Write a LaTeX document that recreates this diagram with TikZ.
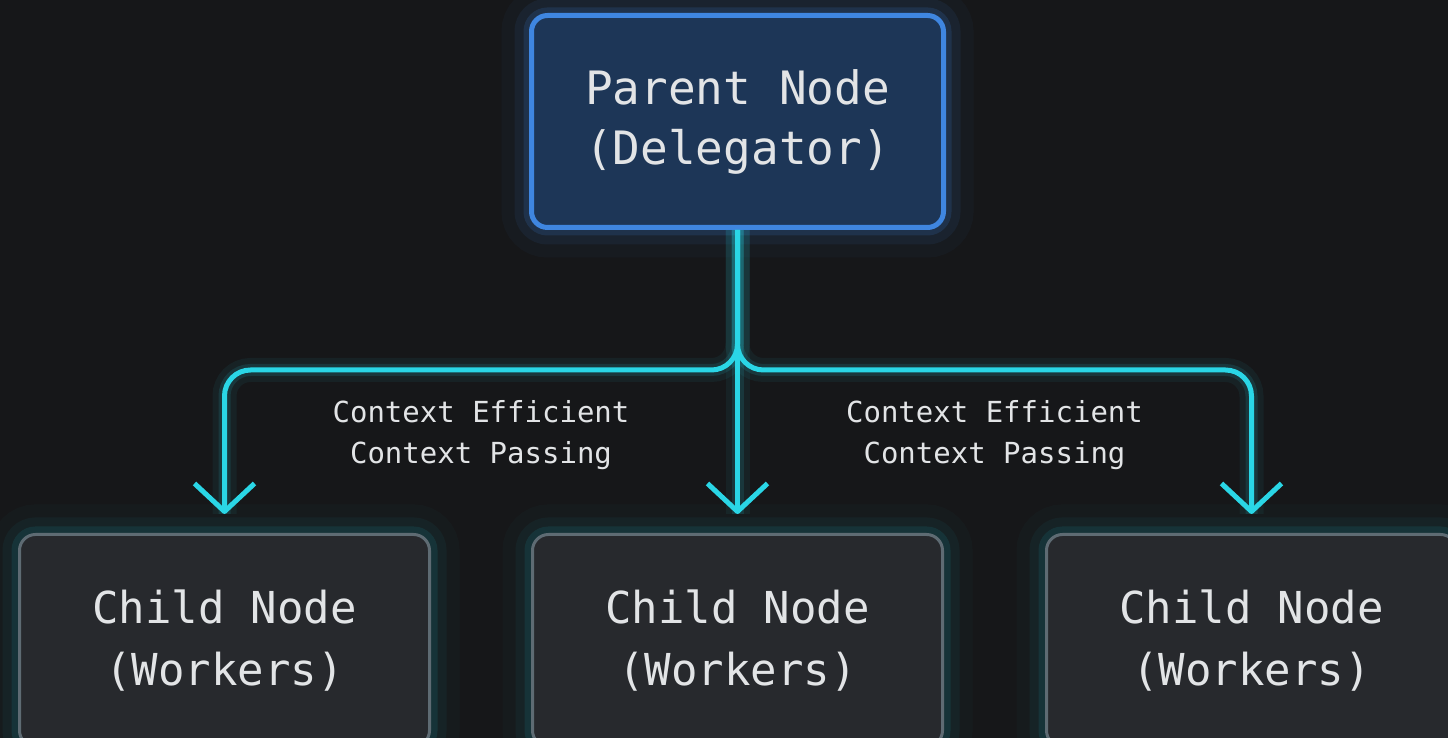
\documentclass[tikz,border=0pt]{standalone}
\usepackage{fontspec}
\setmonofont{DejaVu Sans Mono}
\usetikzlibrary{positioning, arrows.meta, calc}
\definecolor{bgcol}{HTML}{161719}
\definecolor{parentfill}{HTML}{1D3657}
\definecolor{parentline}{HTML}{3F86E0}
\definecolor{childfill}{HTML}{27292D}
\definecolor{childline}{HTML}{5E6B73}
\definecolor{childglow}{HTML}{1B8C96}
\definecolor{linkcol}{HTML}{2AD6E6}
\definecolor{txtcol}{HTML}{E2E4E6}
\tikzset{glow/.style={preaction={draw=#1, line width=30pt, opacity=0.04},
		preaction={draw=#1, line width=17pt, opacity=0.08},
		preaction={draw=#1, line width=8pt, opacity=0.16}},
	main node/.style={rectangle, rounded corners=8pt, draw=parentline, fill=parentfill, line width=2.5pt,
		minimum width=206pt, minimum height=106pt, align=center, text=txtcol,
		font=\ttfamily\fontsize{23}{30}\selectfont, glow=parentline},
	child node/.style={rectangle, rounded corners=8pt, draw=childline, fill=childfill, line width=1.5pt,
		minimum width=205pt, minimum height=106pt, align=center, text=txtcol,
		font=\ttfamily\fontsize{22}{31}\selectfont, glow=childglow},
	note/.style={align=center, text=txtcol, font=\ttfamily\fontsize{14.5}{20.5}\selectfont},
	link/.style={draw=linkcol, line width=2.5pt, rounded corners=13pt, shorten >=9.5pt,
		-{Straight Barb[length=14pt, width=30pt, line join=round]},
		preaction={draw=linkcol, line width=12pt, opacity=0.06, arrows=-},
		preaction={draw=linkcol, line width=6pt, opacity=0.12, arrows=-}},}

\begin{document}
\begin{tikzpicture}[x=0.5pt, y=0.5pt]
			\useasboundingbox (0,0) rectangle (1448,738);
			\clip (0,0) rectangle (1448,738);
			\fill[bgcol] (0,0) rectangle (1448,738);
			% Nodes
			\node[main node] (parent) at (737.5,616.5) {Parent Node\\(Delegator)};
			\node[child node] [below = 151.5pt of parent] (child2) {Child Node\\(Workers)};
			\node[child node] [left = 50pt of child2] (child1) {Child Node\\(Workers)};
			\node[child node] [right = 50.5pt of child2] (child3) {Child Node\\(Workers)};
			% Labels
			\node[note] (note1) at ($(child1.north)!.5!(child2.north)+(0,98)$) {Context Efficient\\Context Passing};
			\node[note] (note2) at ($(child2.north)!.5!(child3.north)+(0,98)$) {Context Efficient\\Context Passing};
			% Links
			\path[link] (parent.south) |- ($(child1.north)+(0,163)$) -- (child1.north);
			\path[link] (parent.south) |- ($(child3.north)+(0,163)$) -- (child3.north);
			\path[link] (parent.south) -- (child2.north);
		\end{tikzpicture}
\end{document}
